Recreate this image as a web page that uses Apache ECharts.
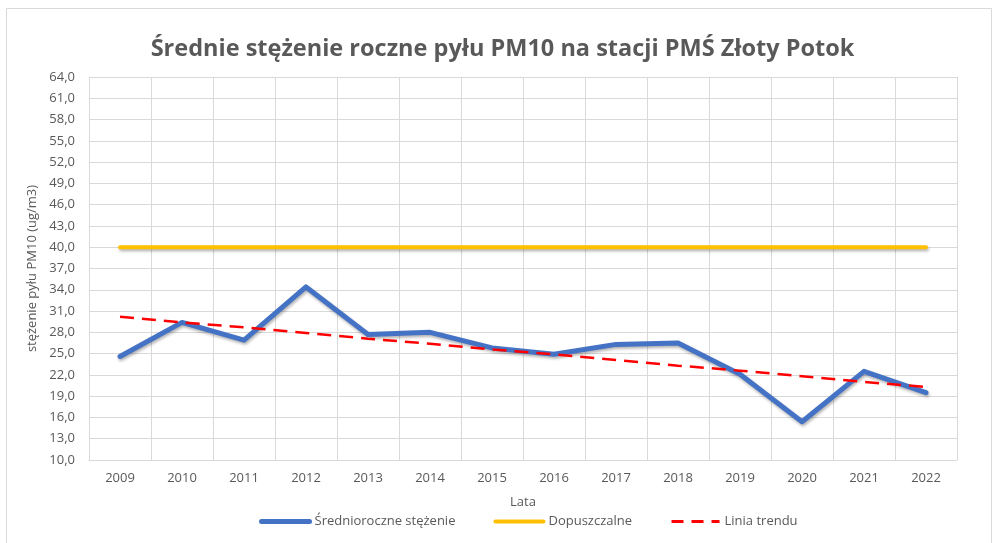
<!DOCTYPE html>
<html>
<head>
<meta charset="utf-8">
<script src="https://cdn.jsdelivr.net/npm/echarts@6/dist/echarts.min.js"></script>
<style>
  html, body { margin: 0; padding: 0; background: #fff; }
  #chart { width: 1005px; height: 543px; }
</style>
</head>
<body>
<div id="chart"></div>
<script>
  // dane z wykresu
  var lata = ['2009', '2010', '2011', '2012', '2013', '2014', '2015', '2016', '2017', '2018', '2019', '2020', '2021', '2022'];
  var stezenie = [24.6, 29.4, 26.9, 34.4, 27.7, 28.0, 25.8, 24.9, 26.3, 26.5, 22.1, 15.4, 22.5, 19.5];
  var dopuszczalne = [40, 40, 40, 40, 40, 40, 40, 40, 40, 40, 40, 40, 40, 40];
  var trend = [30.2, 29.4, 28.7, 27.9, 27.1, 26.4, 25.6, 24.9, 24.1, 23.3, 22.6, 21.8, 21.0, 20.3];

  var font = 'Open Sans';
  var gray = '#595959';
  var chart = echarts.init(document.getElementById('chart'));
  chart.setOption({
    animation: false,
    textStyle: { fontFamily: font },
    title: {
      text: 'Średnie stężenie roczne pyłu PM10 na stacji PMŚ Złoty Potok',
      left: 'center',
      top: 32,
      textStyle: { fontSize: 23.5, fontWeight: 'bold', color: gray, fontFamily: font }
    },
    graphic: [{
      type: 'rect',
      shape: { x: 6.5, y: 8.5, width: 985, height: 540 },
      style: { fill: 'none', stroke: '#d9d9d9', lineWidth: 1 },
      silent: true
    }],
    legend: {
      bottom: 10,
      left: 254,
      itemWidth: 48,
      itemHeight: 10,
      itemGap: 38,
      itemStyle: { opacity: 0 },
      textStyle: { fontSize: 13, color: gray, fontFamily: font },
      data: [
        { name: 'Średnioroczne stężenie', lineStyle: { width: 5, cap: 'round' } },
        { name: 'Dopuszczalne', lineStyle: { width: 4, cap: 'round' } },
        { name: 'Linia trendu', lineStyle: { width: 3, type: [12, 8] } }
      ]
    },
    grid: { left: 89, top: 77, right: 48, bottom: 83 },
    xAxis: {
      type: 'category',
      data: lata,
      name: 'Lata',
      nameLocation: 'middle',
      nameGap: 36,
      nameTextStyle: { fontSize: 13, color: gray },
      boundaryGap: true,
      axisTick: { show: false },
      axisLine: { lineStyle: { color: '#d9d9d9' } },
      axisLabel: { fontSize: 13, color: gray, margin: 12 },
      splitLine: { show: true, lineStyle: { color: '#d9d9d9' } }
    },
    yAxis: {
      type: 'value',
      min: 10,
      max: 64,
      interval: 3,
      name: 'stężenie pyłu PM10 (ug/m3)',
      nameLocation: 'middle',
      nameGap: 50,
      nameTextStyle: { fontSize: 13, color: gray },
      axisLine: { show: false },
      axisTick: { show: false },
      axisLabel: {
        fontSize: 13, color: gray, margin: 14,
        formatter: function (v) { return v.toFixed(1).replace('.', ','); }
      },
      splitLine: { lineStyle: { color: '#d9d9d9' } }
    },
    series: [
      {
        name: 'Średnioroczne stężenie',
        type: 'line',
        data: stezenie,
        symbol: 'none',
        itemStyle: { color: '#4472C4' },
        lineStyle: { color: '#4472C4', width: 5, cap: 'round', join: 'round',
          shadowColor: 'rgba(0,0,0,0.3)', shadowBlur: 3, shadowOffsetX: 1, shadowOffsetY: 2 },
        z: 3
      },
      {
        name: 'Dopuszczalne',
        type: 'line',
        data: dopuszczalne,
        symbol: 'none',
        itemStyle: { color: '#FFC000' },
        lineStyle: { color: '#FFC000', width: 4, cap: 'round',
          shadowColor: 'rgba(0,0,0,0.3)', shadowBlur: 3, shadowOffsetX: 1, shadowOffsetY: 2 },
        z: 2
      },
      {
        name: 'Linia trendu',
        type: 'line',
        data: trend,
        symbol: 'none',
        itemStyle: { color: '#FF0000' },
        lineStyle: { color: '#FF0000', width: 2.5, type: [14, 8] },
        z: 4
      }
    ]
  });
</script>
</body>
</html>
